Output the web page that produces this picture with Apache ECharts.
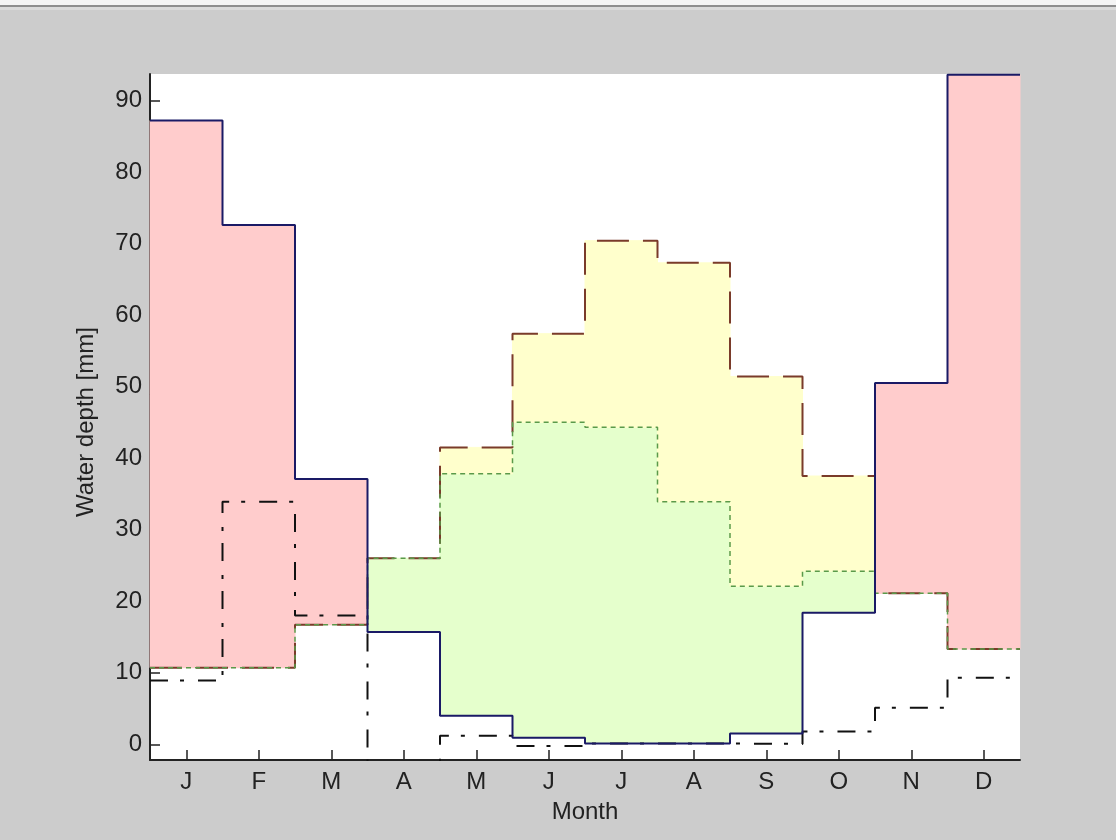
<!DOCTYPE html>
<html>
<head>
<meta charset="utf-8">
<script src="https://cdn.jsdelivr.net/npm/echarts@6/dist/echarts.min.js"></script>
<style>
html,body{margin:0;padding:0;background:#cccccc;}
#chart{width:1116px;height:840px;}
</style>
</head>
<body>
<div id="chart"></div>
<script>
// ---- data (mm) ----
const monthLabels = ['J','F','M','A','M','J','J','A','S','O','N','D'];
const yTicks = [0,10,20,30,40,50,60,70,80,90];
const precipitation = [87.2, 72.6, 37.1, 15.7, 4.0, 0.9, 0.1, 0.1, 1.5, 18.4, 50.5, 93.6];
const potentialET   = [10.7, 10.7, 16.7, 26.0, 41.5, 57.4, 70.4, 67.3, 51.4, 37.5, 21.1, 13.3];
const actualET      = [10.7, 10.7, 16.7, 26.0, 37.8, 45.0, 44.3, 33.9, 22.1, 24.2, 21.1, 13.3];
const storageChange = [8.9, 33.9, 18.0, -4.0, 1.2, -0.25, 0.1, 0.1, 0.05, 1.8, 5.1, 9.3];

// ---- helpers ----
const months = monthLabels.map((_, i) => i + 1);
function stepPoints(arr) {
  const pts = [];
  arr.forEach((v, i) => { pts.push([months[i] - 0.5, v]); pts.push([months[i] + 0.5, v]); });
  return pts;
}
const surplus = [], deficit = [], utilization = [];
months.forEach((m, i) => {
  const p = precipitation[i], pe = potentialET[i], ae = actualET[i];
  if (p > pe) surplus.push([m, pe, p]);
  if (ae > p) utilization.push([m, p, ae]);
  if (pe > ae) deficit.push([m, ae, pe]);
});
function bandSeries(data, color) {
  return {
    type: 'custom', data: data, encode: { x: 0, y: [1, 2] }, z: 1, silent: true,
    renderItem: function (params, api) {
      const x = api.value(0), lo = api.value(1), hi = api.value(2);
      const a = api.coord([x - 0.5, hi]);
      const b = api.coord([x + 0.5, lo]);
      return { type: 'rect', shape: { x: a[0], y: a[1], width: b[0] - a[0], height: b[1] - a[1] },
               style: { fill: color, stroke: color, lineWidth: 1 } };
    }
  };
}
function lineSeries(arr, color, width, dash, z) {
  return {
    type: 'line', data: stepPoints(arr), symbol: 'none', z: z, clip: true, silent: true,
    lineStyle: { color: color, width: width, type: dash }
  };
}

const font = 'Liberation Sans, Arial, Helvetica, sans-serif';
const chart = echarts.init(document.getElementById('chart'), null, { renderer: 'canvas' });
chart.setOption({
  animation: false,
  backgroundColor: '#cccccc',
  graphic: [
    { type: 'rect', shape: { x: 0, y: 0, width: 1116, height: 5 }, style: { fill: '#f4f4f4' } },
    { type: 'rect', shape: { x: 0, y: 5, width: 1116, height: 2 }, style: { fill: '#8e8e8e' } },
    { type: 'rect', shape: { x: 0, y: 7, width: 1116, height: 3 }, style: { fill: '#dadada' } }
  ],
  grid: { left: 150, right: 96, top: 74, bottom: 80, show: true, backgroundColor: '#ffffff', borderWidth: 0 },
  xAxis: {
    type: 'value', min: 0.5, max: 12.5,
    name: 'Month', nameLocation: 'middle', nameGap: 40,
    nameTextStyle: { fontFamily: font, fontSize: 24, color: '#222' },
    axisLine: { onZero: false, lineStyle: { color: '#222', width: 2 } },
    axisTick: { inside: true, length: 10, customValues: months, lineStyle: { color: '#222', width: 1.5 } },
    axisLabel: { customValues: months, margin: 10, fontFamily: font, fontSize: 24, color: '#222',
                 formatter: v => monthLabels[Math.round(v) - 1] },
    splitLine: { show: false }
  },
  yAxis: {
    type: 'value', min: -2.2, max: 93.7,
    name: 'Water depth [mm]', nameLocation: 'middle', nameGap: 52, nameRotate: 90,
    nameTextStyle: { fontFamily: font, fontSize: 24, color: '#222', padding: [0, 0, 0, -10] },
    axisLine: { show: true, lineStyle: { color: '#222', width: 2 } },
    axisTick: { inside: true, length: 10, customValues: yTicks, lineStyle: { color: '#222', width: 1.5 } },
    axisLabel: { customValues: yTicks, margin: 8, fontFamily: font, fontSize: 24, color: '#222' },
    splitLine: { show: false }
  },
  series: [
    bandSeries(surplus, '#ffcccc'),
    bandSeries(utilization, '#e5ffcc'),
    bandSeries(deficit, '#ffffcc'),
    lineSeries(storageChange, '#111111', 2, [18, 12, 4, 14], 5),
    lineSeries(potentialET, '#7a3b2a', 2, [32, 14], 6),
    lineSeries(actualET, '#5a9a4a', 1.5, [5, 4], 7),
    lineSeries(precipitation, '#1a1a66', 2, 'solid', 8)
  ]
});
</script>
</body>
</html>
